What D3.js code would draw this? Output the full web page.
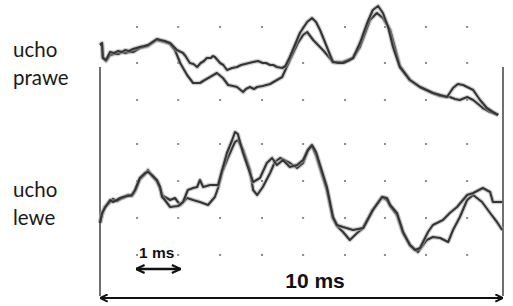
<!DOCTYPE html>
<html>
<head>
<meta charset="utf-8">
<script src="https://cdn.jsdelivr.net/npm/d3@7"></script>
<style>
  body { margin: 0; background: #fff; }
  svg { display: block; }
  .label { font-family: Lato, 'Open Sans', sans-serif; font-size: 20.5px; fill: #1a1a1a; }
  .scale-label { font-family: 'Liberation Sans', Arial, sans-serif; font-weight: bold; fill: #111; }
</style>
</head>
<body>
<svg width="513" height="306"></svg>
<script>
// Time (ms) and amplitude (a.u.) pairs
const rightEarA = [
  [0.00, 4.5], [0.05, 5], [0.07, 1.25], [0.15, 0.75], [0.25, 2.75], [0.35, 2.5], [0.45, 3],
  [0.55, 2.75], [0.62, 3.25], [0.72, 3], [0.82, 3.5], [0.99, 4], [1.10, 4.25], [1.19, 4.5],
  [1.30, 5.25], [1.41, 6], [1.50, 5.75], [1.61, 5.5], [1.74, 5], [1.91, 3.25], [2.06, 2.5],
  [2.12, 1.75], [2.23, 0], [2.32, -0.25], [2.41, -1], [2.50, 0], [2.58, 0.5], [2.65, 1.25],
  [2.75, 1.25], [2.80, 1.75], [2.85, 1.5], [2.98, 0], [3.06, -0.5], [3.15, -1.75],
  [3.28, -1.25], [3.40, -1], [3.50, -0.5], [3.60, -0.25], [3.70, 0], [3.80, 0.25],
  [3.92, 0.5], [4.04, 0], [4.12, 0], [4.22, -0.5], [4.30, -0.5], [4.39, -1], [4.52, -1.25],
  [4.60, -0.75], [4.71, 1.5], [4.96, 7.5], [5.14, 10.25], [5.26, 11.25], [5.36, 10.25],
  [5.46, 8.25], [5.63, 4], [5.78, 0.25], [5.91, 0], [6.03, 0], [6.15, 0.5], [6.28, 1.25],
  [6.45, 5], [6.63, 10], [6.77, 13.25], [6.90, 14.25], [7.02, 12.5], [7.15, 9], [7.27, 4],
  [7.44, -1], [7.69, -4.25], [7.94, -6], [8.10, -6.75], [8.26, -7.5], [8.44, -8],
  [8.61, -8.5], [8.76, -6.25], [8.88, -5.25], [9.01, -5.5], [9.26, -6.75], [9.43, -9.25],
  [9.60, -11.25], [9.75, -12.25], [9.88, -13]
];
const rightEarB = [
  [0.00, 4.5], [0.05, 4.75], [0.07, 1.5], [0.15, 0.5], [0.25, 2], [0.35, 2.25], [0.45, 2.25],
  [0.55, 2.75], [0.62, 2.5], [0.72, 2.75], [0.82, 2.75], [0.99, 3.75], [1.19, 4.25],
  [1.41, 5.75], [1.61, 5.25], [1.74, 4.75], [1.86, 3.25], [1.99, 0], [2.16, -3], [2.31, -5],
  [2.48, -5], [2.60, -4.25], [2.73, -3.5], [2.90, -2.5], [3.05, -3.75], [3.18, -5.5],
  [3.30, -5.75], [3.40, -6], [3.55, -7.25], [3.62, -6.5], [3.72, -6], [3.82, -6.5],
  [3.90, -6], [4.04, -5.75], [4.22, -5.25], [4.39, -4.25], [4.52, -3.5], [4.71, 0.75],
  [4.91, 5], [5.04, 7], [5.14, 7.75], [5.29, 5.75], [5.41, 4.5], [5.53, 3.25], [5.66, 1.75],
  [5.78, 0.25], [6.03, 0.25], [6.28, 1.25], [6.45, 4], [6.58, 7.5], [6.70, 10.75],
  [6.87, 12.5], [7.02, 11.25], [7.20, 8.25], [7.32, 3.75], [7.44, -0.75], [7.69, -4.25],
  [7.94, -6], [8.26, -7.5], [8.44, -8.25], [8.68, -8.5], [8.81, -9], [8.93, -9.25],
  [9.11, -8.5], [9.26, -9.25], [9.50, -11.25], [9.68, -12.25], [9.88, -13]
];
const leftEarA = [
  [0.00, -10.5], [0.05, -8], [0.12, -6.75], [0.25, -4.75], [0.32, -5.25], [0.42, -4.75],
  [0.50, -4.25], [0.57, -4], [0.69, -3.75], [0.79, -3.5], [0.87, -2.25], [0.92, -1],
  [0.99, 0.75], [1.12, 2], [1.19, 2.25], [1.29, 1.5], [1.41, 0.25], [1.49, -1.5],
  [1.54, -4], [1.61, -4.75], [1.74, -6.5], [1.94, -6.25], [2.06, -5.25], [2.18, -2.25],
  [2.31, -1.75], [2.41, -1.5], [2.48, 0.25], [2.56, -1.5], [2.73, -1], [2.93, -1],
  [3.03, 2.75], [3.15, 7], [3.28, 10.25], [3.35, 12.25], [3.42, 11.75], [3.55, 7],
  [3.72, 2], [3.80, -0.25], [3.97, 0.75], [4.14, 4.5], [4.27, 5.75], [4.39, 4],
  [4.54, 5.25], [4.71, 3.5], [4.89, 4], [5.04, 5.25], [5.16, 7.75], [5.26, 9],
  [5.36, 7.25], [5.46, 4], [5.63, -1.5], [5.78, -9], [5.88, -11], [6.03, -11.5],
  [6.28, -12.25], [6.53, -11.75], [6.77, -7.25], [7.00, -4], [7.12, -4.25], [7.20, -6],
  [7.37, -8], [7.52, -12.75], [7.69, -16], [7.82, -17.25], [7.94, -16.75], [8.14, -12.75],
  [8.26, -11], [8.51, -9.75], [8.68, -8], [8.86, -6.5], [9.11, -3.5], [9.26, -3],
  [9.50, -1.75], [9.68, -2.75], [9.75, -5.25], [9.98, -5.25]
];
const leftEarB = [
  [0.00, -10.5], [0.05, -8.5], [0.12, -6.5], [0.25, -5.25], [0.32, -4.5], [0.42, -5],
  [0.50, -4.5], [0.57, -4.25], [0.69, -3.5], [0.79, -3.75], [0.87, -2.5], [0.92, -1.25],
  [0.99, 0.5], [1.12, 1.75], [1.19, 2.75], [1.29, 1.25], [1.41, 0], [1.49, -1.75],
  [1.54, -3.5], [1.61, -4], [1.74, -4.75], [1.86, -4.25], [1.99, -6], [2.16, -4.25],
  [2.31, -4.75], [2.48, -5.25], [2.68, -6], [2.85, -4], [2.93, -1.75], [3.03, 2.25],
  [3.15, 5.25], [3.28, 8.25], [3.35, 9.75], [3.42, 10.25], [3.55, 7.75], [3.72, 2.75],
  [3.80, -2.25], [3.90, -3.5], [4.04, -1.5], [4.22, 2], [4.34, 4.75], [4.47, 5.75],
  [4.71, 4.5], [4.89, 3.25], [5.04, 4.5], [5.16, 7.75], [5.26, 8.75], [5.36, 6.5],
  [5.46, 3.25], [5.63, -2.25], [5.78, -9.25], [5.88, -11.25], [6.03, -12.75],
  [6.20, -14.75], [6.38, -13], [6.53, -11.75], [6.77, -7.25], [7.00, -4], [7.12, -4.75],
  [7.20, -6.25], [7.37, -8.5], [7.52, -13], [7.69, -16], [7.77, -16.75], [7.89, -17.75],
  [8.11, -14.75], [8.26, -14], [8.44, -14.25], [8.64, -15.25], [8.76, -12.25], [8.93, -9],
  [9.11, -4.75], [9.26, -3.5], [9.48, -5.25], [9.68, -8], [9.85, -10.25], [9.98, -12.25]
];

// Grid dots: time columns (ms) and amplitude rows per panel
const gridTimes = [0.92, 1.94, 2.98, 4.02, 5.04, 6.08, 7.07, 8.09, 9.11];
const gridRowsUpper = [9, 0, -9.25];
const gridRowsLower = [9.25, 0, -9.25, -18.5];

const panelLabels = [['ucho', 'prawe'], ['ucho', 'lewe']];
const spanTotal = [0, 10];
const spanUnit = [0.92, 1.92];

const svg = d3.select('svg');

const xScale = d3.scaleLinear().domain([0, 10]).range([100, 503]);
const yUpper = d3.scaleLinear().domain([0, 10]).range([63, 23]);
const yLower = d3.scaleLinear().domain([0, 10]).range([181, 141]);

// Arrow heads
const defs = svg.append('defs');
const addMarker = (id, size) => {
  defs.append('marker')
    .attr('id', id)
    .attr('viewBox', '0 0 10 10')
    .attr('refX', 9.5)
    .attr('refY', 5)
    .attr('markerUnits', 'userSpaceOnUse')
    .attr('markerWidth', size)
    .attr('markerHeight', size)
    .attr('orient', 'auto-start-reverse')
    .append('path')
    .attr('d', 'M1,1 L9.5,5 L1,9')
    .attr('fill', 'none')
    .attr('stroke', '#111')
    .attr('stroke-width', 2.2);
};
addMarker('headBig', 9);
addMarker('headSmall', 10);

// Grid dots
const drawDots = (rows, yScale) => {
  const cells = d3.cross(gridTimes, rows);
  svg.append('g')
    .selectAll('rect')
    .data(cells)
    .enter()
    .append('rect')
    .attr('x', (d) => xScale(d[0]) - 1)
    .attr('y', (d) => yScale(d[1]) - 1)
    .attr('width', 2)
    .attr('height', 2)
    .attr('fill', '#8c8c8c');
};
drawDots(gridRowsUpper, yUpper);
drawDots(gridRowsLower, yLower);

// Frame lines at 0 and 10 ms
svg.append('g')
  .selectAll('line')
  .data(spanTotal)
  .enter()
  .append('line')
  .attr('x1', (d) => xScale(d))
  .attr('x2', (d) => xScale(d))
  .attr('y1', 67)
  .attr('y2', 296)
  .attr('stroke', '#222')
  .attr('stroke-width', 1.3);

// Traces
const drawTrace = (data, yScale) => {
  const line = d3.line()
    .x((d) => xScale(d[0]))
    .y((d) => yScale(d[1]));
  svg.append('path')
    .datum(data)
    .attr('d', line)
    .attr('fill', 'none')
    .attr('stroke', '#a8a8a8')
    .attr('stroke-width', 4.5)
    .attr('stroke-linejoin', 'round')
    .attr('opacity', 0.55);
  svg.append('path')
    .datum(data)
    .attr('d', line)
    .attr('fill', 'none')
    .attr('stroke', '#353535')
    .attr('stroke-width', 2.1)
    .attr('stroke-linejoin', 'round');
};
drawTrace(rightEarB, yUpper);
drawTrace(rightEarA, yUpper);
drawTrace(leftEarB, yLower);
drawTrace(leftEarA, yLower);

// Panel labels
const labelY = [57, 197];
panelLabels.forEach((lines, i) => {
  svg.append('text')
    .attr('class', 'label')
    .attr('x', 13)
    .attr('y', labelY[i])
    .selectAll('tspan')
    .data(lines)
    .enter()
    .append('tspan')
    .attr('x', 13)
    .attr('dy', (d, j) => (j === 0 ? 0 : 28))
    .text((d) => d);
});

// Scale arrows
svg.append('line')
  .attr('x1', xScale(spanTotal[0]))
  .attr('x2', xScale(spanTotal[1]))
  .attr('y1', 298)
  .attr('y2', 298)
  .attr('stroke', '#111')
  .attr('stroke-width', 2)
  .attr('marker-start', 'url(#headBig)')
  .attr('marker-end', 'url(#headBig)');

svg.append('text')
  .attr('class', 'scale-label')
  .attr('x', 315)
  .attr('y', 288)
  .attr('text-anchor', 'middle')
  .attr('font-size', 21)
  .text('10 ms');

svg.append('line')
  .attr('x1', xScale(spanUnit[0]) - 1)
  .attr('x2', xScale(spanUnit[1]) + 3)
  .attr('y1', 269)
  .attr('y2', 269)
  .attr('stroke', '#111')
  .attr('stroke-width', 2.4)
  .attr('marker-start', 'url(#headSmall)')
  .attr('marker-end', 'url(#headSmall)');

svg.append('text')
  .attr('class', 'scale-label')
  .attr('x', 139)
  .attr('y', 258)
  .attr('font-size', 15.5)
  .text('1 ms');
</script>
</body>
</html>
